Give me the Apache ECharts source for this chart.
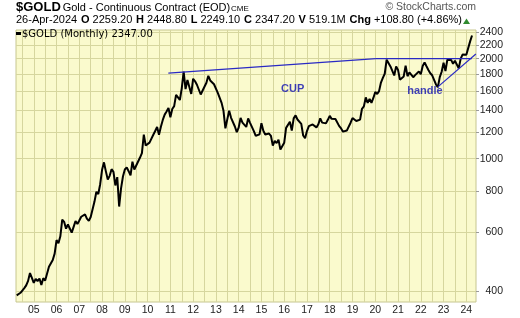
<!DOCTYPE html>
<html>
<head>
<meta charset="utf-8">
<script src="https://cdn.jsdelivr.net/npm/echarts@6.0.0/dist/echarts.min.js"></script>
<style>
html,body{margin:0;padding:0;background:#ffffff;}
#chart{width:520px;height:318px;}
</style>
</head>
<body>
<div id="chart"></div>
<script>
// ---------------- data (monthly closes, $GOLD continuous contract) ----------------
const firstYear = 2004, firstMonth = 4; // first plotted close: April 2004
const close2004 = [388, 393, 395, 391, 408, 416, 429, 453, 438];
const close2005 = [423, 435, 428, 436, 417, 437, 430, 434, 473, 470, 496, 518];
const close2006 = [569, 557, 584, 656, 646, 616, 634, 627, 599, 606, 649, 636];
const close2007 = [652, 669, 663, 680, 660, 650, 668, 673, 743, 795, 783, 838];
const close2008 = [926, 975, 916, 866, 888, 930, 913, 831, 880, 718, 814, 884];
const close2009 = [928, 942, 917, 891, 979, 927, 954, 955, 1008, 1040, 1182, 1096];
const close2010 = [1081, 1118, 1115, 1180, 1212, 1245, 1181, 1248, 1308, 1357, 1386, 1421];
const close2011 = [1333, 1411, 1439, 1556, 1536, 1502, 1628, 1829, 1620, 1725, 1747, 1566];
const close2012 = [1740, 1710, 1669, 1664, 1560, 1604, 1614, 1692, 1776, 1719, 1713, 1675];
const close2013 = [1663, 1578, 1597, 1472, 1393, 1234, 1313, 1395, 1327, 1323, 1250, 1202];
const close2014 = [1240, 1326, 1284, 1296, 1246, 1322, 1282, 1286, 1210, 1172, 1175, 1184];
const close2015 = [1279, 1213, 1183, 1182, 1190, 1172, 1095, 1132, 1114, 1141, 1065, 1061];
const close2016 = [1116, 1238, 1234, 1291, 1215, 1322, 1350, 1312, 1316, 1273, 1174, 1152];
const close2017 = [1211, 1253, 1251, 1268, 1269, 1242, 1269, 1322, 1284, 1271, 1277, 1309];
const close2018 = [1345, 1318, 1327, 1316, 1305, 1253, 1233, 1206, 1196, 1215, 1226, 1283];
const close2019 = [1325, 1316, 1298, 1286, 1311, 1413, 1437, 1529, 1472, 1513, 1473, 1523];
const close2020 = [1588, 1566, 1597, 1695, 1751, 1801, 1986, 1978, 1895, 1879, 1780, 1895];
const close2021 = [1850, 1729, 1716, 1768, 1906, 1771, 1817, 1818, 1758, 1784, 1776, 1829];
const close2022 = [1796, 1901, 1949, 1897, 1849, 1807, 1782, 1726, 1672, 1640, 1760, 1826];
const close2023 = [1945, 1836, 1986, 1999, 1982, 1929, 1970, 1966, 1870, 1996, 2057, 2072];
const close2024 = [2053, 2054, 2254, 2347];

// axis ticks / labels
const yTickValues = [400, 600, 800, 1000, 1200, 1400, 1600, 1800, 2000, 2200, 2400];
const xYears = [2005, 2006, 2007, 2008, 2009, 2010, 2011, 2012, 2013, 2014,
                2015, 2016, 2017, 2018, 2019, 2020, 2021, 2022, 2023, 2024];
const xYearLabels = ['05','06','07','08','09','10','11','12','13','14',
                     '15','16','17','18','19','20','21','22','23','24'];

// hand-drawn annotations: [decimal year, price]
const cupRimLine = [[2010.91, 1808], [2020.03, 2000]];
const resistanceLine = [[2020.03, 2000], [2024.24, 2000]];
const handleTrendLine = [[2022.75, 1645], [2024.42, 2065]];
const noteTexts = ['CUP', 'handle'];
const notePoints = [[2016.37, 1622], [2022.18, 1603]];

// header quote
const quoteDate = '26-Apr-2024';
const quoteOpen = '2259.20', quoteHigh = '2448.80', quoteLow = '2249.10', quoteClose = '2347.20';
const quoteVolume = '519.1M', quoteChange = '+108.80 (+4.86%)';

// ---------------- build ----------------
const closes = [].concat(close2004, close2005, close2006, close2007, close2008, close2009,
  close2010, close2011, close2012, close2013, close2014, close2015, close2016, close2017,
  close2018, close2019, close2020, close2021, close2022, close2023, close2024);
const lg = p => Math.log10(p);
const goldData = closes.map((c, i) => [firstYear + (firstMonth - 1 + i) / 12, lg(c)]);
const toLog = arr => arr.map(d => [d[0], lg(d[1])]);

const xMin = 2004.219, xMax = 2024.425;
const yMinPrice = 370.6, yMaxPrice = 2438.6;
const halfYears = [];
for (let t = 2004.5; t <= 2024.01; t += 0.5) halfYears.push(+t.toFixed(2));
const yTicksLog = yTickValues.map(lg);

const blue = '#2a2ac4';
const lineSeries = (data) => ({
  type: 'line', data: toLog(data), showSymbol: false, symbol: 'none', silent: true,
  lineStyle: { color: blue, width: 1.2 }, z: 4, clip: true
});

const chart = echarts.init(document.getElementById('chart'), null, { renderer: 'canvas' });
const lastClose = closes[closes.length - 1];

const option = {
  animation: false,
  backgroundColor: '#ffffff',
  grid: {
    left: 16, right: 44, top: 30, bottom: 16, show: true,
    backgroundColor: '#fafacd', borderColor: '#c6c690', borderWidth: 1
  },
  xAxis: {
    type: 'value', min: xMin, max: xMax,
    axisLine: { show: false },
    axisTick: { show: false, customValues: halfYears },
    axisLabel: {
      customValues: xYears,
      formatter: v => xYearLabels[xYears.indexOf(Math.round(v))],
      fontFamily: 'Liberation Sans', fontSize: 10.5, color: '#222', margin: 3
    },
    splitLine: { show: true, lineStyle: { color: '#d6d69e', width: 1 } }
  },
  yAxis: {
    type: 'value', position: 'right', min: lg(yMinPrice), max: lg(yMaxPrice),
    axisLine: { show: false },
    axisTick: { show: true, length: 3, customValues: yTicksLog, lineStyle: { color: '#9a9a9a' } },
    axisLabel: {
      customValues: yTicksLog,
      formatter: v => String(Math.round(Math.pow(10, v))),
      align: 'right', margin: 27,
      fontFamily: 'Liberation Sans', fontSize: 10.5, color: '#222'
    },
    splitLine: { show: true, lineStyle: { color: '#d6d69e', width: 1 } }
  },
  series: [
    {
      name: '$GOLD (Monthly)', type: 'line', data: goldData, showSymbol: false, symbol: 'none',
      silent: true, clip: true, z: 3,
      lineStyle: { color: '#000000', width: 2 }
    },
    lineSeries(cupRimLine),
    lineSeries(resistanceLine),
    lineSeries(handleTrendLine),
    {
      type: 'scatter', data: toLog(notePoints), symbol: 'circle', symbolSize: 2, silent: true, z: 5,
      itemStyle: { color: 'rgba(0,0,0,0)' },
      label: {
        show: true, position: 'inside',
        formatter: p => noteTexts[p.dataIndex],
        fontFamily: 'Liberation Sans', fontWeight: 'bold', fontSize: 11, color: '#1010b0'
      }
    }
  ],
  graphic: [
    { type: 'text', x: 16, y: 7.2, silent: true,
      style: { text: '$GOLD', font: 'bold 13px "Liberation Sans"', fill: '#000', verticalAlign: 'middle' } },
    { type: 'text', x: 62.7, y: 7.9, silent: true,
      style: { text: 'Gold - Continuous Contract (EOD)', font: '11px "Liberation Sans"', fill: '#000', verticalAlign: 'middle' } },
    { type: 'text', x: 231, y: 8.9, silent: true,
      style: { text: 'CME', font: '8px "Liberation Sans"', fill: '#000', verticalAlign: 'middle' } },
    { type: 'text', x: 476, y: 6.7, silent: true,
      style: { text: '\u00A9 StockCharts.com', font: '10.5px "Liberation Sans"', fill: '#555', align: 'right', verticalAlign: 'middle' } },
    { type: 'text', x: 16, y: 20.2, silent: true,
      style: {
        text: '{n|' + quoteDate + '}{g| }{b|O}{n| ' + quoteOpen + '}{g| }{b|H}{n| ' + quoteHigh +
              '}{g| }{b|L}{n| ' + quoteLow + '}{g| }{b|C}{n| ' + quoteClose + '}{g| }{b|V}{n| ' +
              quoteVolume + '}{g| }{b|Chg}{n| ' + quoteChange + '}',
        verticalAlign: 'middle', fill: '#000',
        rich: {
          n: { fontFamily: 'Liberation Sans', fontSize: 11, fill: '#000' },
          b: { fontFamily: 'Liberation Sans', fontSize: 11, fontWeight: 'bold', fill: '#000' },
          g: { fontFamily: 'Liberation Sans', fontSize: 11, width: 3.8 }
        }
      } },
    { type: 'polygon', silent: true,
      shape: { points: [[463, 24], [470, 24], [466.5, 18.5]] },
      style: { fill: '#2f8a2f' } },
    { type: 'rect', silent: true, shape: { x: 16, y: 32, width: 5, height: 3 }, style: { fill: '#000' }, z: 10 },
    { type: 'text', x: 22, y: 34, silent: true, z: 10,
      style: { text: '$GOLD (Monthly) ' + lastClose.toFixed(2), font: '10px "DejaVu Sans"', fill: '#000', verticalAlign: 'middle' } }
  ]
};
chart.setOption(option);
</script>
</body>
</html>
